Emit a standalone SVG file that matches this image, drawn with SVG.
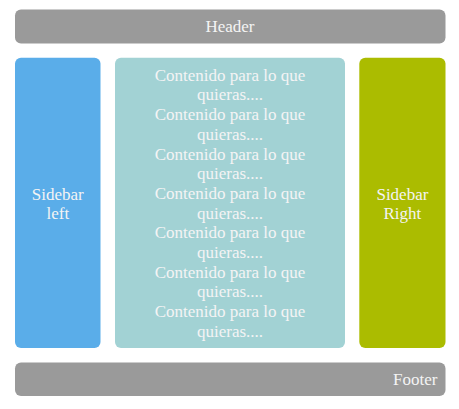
<svg xmlns="http://www.w3.org/2000/svg" width="459" height="409" viewBox="0 0 459 409">
<style>
.t{font-family:"Liberation Serif","Times New Roman",serif;font-size:17px;fill:#f4f4f4;text-anchor:middle}
</style>
<rect width="459" height="409" fill="#ffffff"/>
<g id="header">
<rect x="15" y="9.5" width="430.5" height="34" rx="6" fill="#9a9a9a"/>
<text class="t" x="230" y="31.5">Header</text>
</g>
<g id="sidebar-left">
<rect x="15" y="57.7" width="85.5" height="290.3" rx="6" fill="#5aade9"/>
<text class="t" x="57.8" y="199.5">Sidebar</text>
<text class="t" x="57.8" y="219">left</text>
</g>
<g id="content">
<rect x="115" y="57.7" width="230" height="290.3" rx="6" fill="#a2d2d4"/>
<text class="t" x="230" y="80.7">Contenido para lo que</text>
<text class="t" x="230" y="100.4">quieras....</text>
<text class="t" x="230" y="120.1">Contenido para lo que</text>
<text class="t" x="230" y="139.8">quieras....</text>
<text class="t" x="230" y="159.5">Contenido para lo que</text>
<text class="t" x="230" y="179.2">quieras....</text>
<text class="t" x="230" y="198.9">Contenido para lo que</text>
<text class="t" x="230" y="218.6">quieras....</text>
<text class="t" x="230" y="238.3">Contenido para lo que</text>
<text class="t" x="230" y="258">quieras....</text>
<text class="t" x="230" y="277.7">Contenido para lo que</text>
<text class="t" x="230" y="297.4">quieras....</text>
<text class="t" x="230" y="317.1">Contenido para lo que</text>
<text class="t" x="230" y="336.8">quieras....</text>
</g>
<g id="sidebar-right">
<rect x="359.3" y="57.7" width="86.2" height="290.3" rx="6" fill="#abbc00"/>
<text class="t" x="402.4" y="199.5">Sidebar</text>
<text class="t" x="402.4" y="219">Right</text>
</g>
<g id="footer">
<rect x="15" y="362.5" width="430.5" height="33.5" rx="6" fill="#9a9a9a"/>
<text class="t" x="437.5" y="385" style="text-anchor:end">Footer</text>
</g>
<g id="connectors"></g>
</svg>
